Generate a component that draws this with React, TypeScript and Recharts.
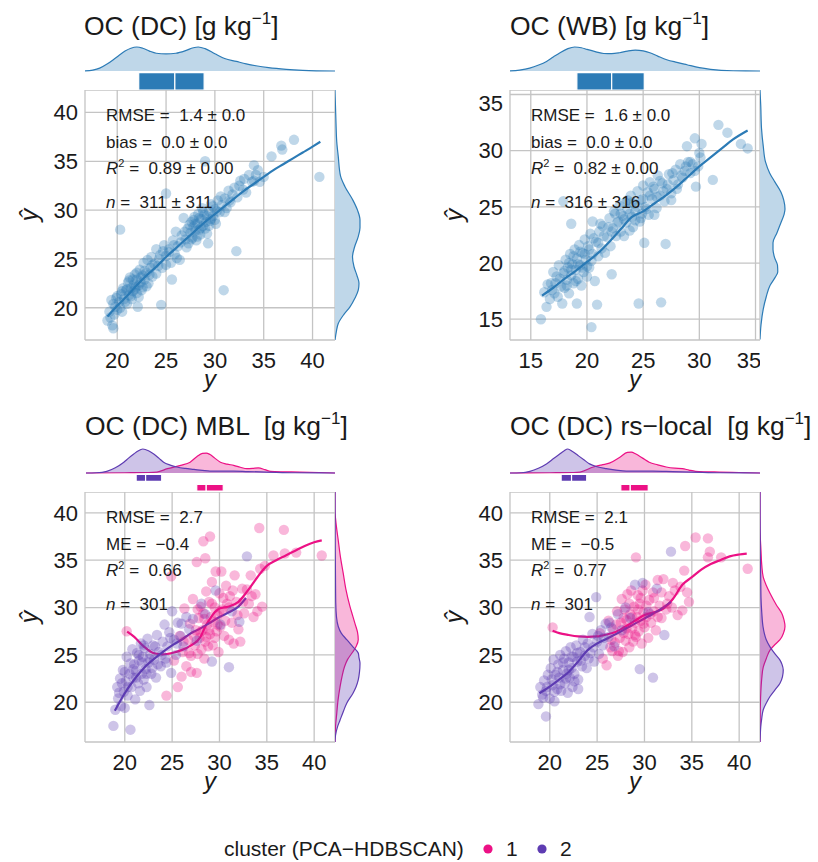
import React from "react";
import {
  Area,
  CartesianGrid,
  ComposedChart,
  Line,
  ReferenceArea,
  Scatter,
  XAxis,
  YAxis,
  ZAxis,
} from "recharts";

// Colours
const BLUE = "#2c7bb6";
const PINK = "#ec1185";
const PURPLE = "#5e3cb2";
const GRID = "#c4c4c4";
const INK = "#1a1a1a";
const FONT = "'Liberation Sans', Arial, Helvetica, sans-serif";

type Pt = [number, number];

// ---------- OC (DC): observed y vs predicted y-hat ----------
const dcPoints: Pt[] = [
  [19.0, 18.7], [19.2, 19.6], [19.4, 20.8], [19.5, 18.2], [19.6, 17.9], [19.7, 19.3], [19.8, 20.1], [19.9, 21.0],
  [20.0, 19.8], [20.3, 28.0], [20.2, 20.6], [20.4, 21.4], [20.5, 19.6], [20.6, 22.0], [20.7, 20.9], [20.9, 21.8],
  [21.0, 20.4], [21.1, 22.6], [21.2, 21.3], [21.3, 23.1], [21.4, 22.0], [21.5, 20.9], [21.6, 21.7], [21.7, 22.4],
  [21.8, 23.4], [21.9, 22.1], [22.0, 21.5], [22.0, 22.9], [22.1, 20.1], [22.2, 22.3], [22.3, 23.9], [22.4, 22.6],
  [22.5, 21.8], [22.6, 23.3], [22.7, 24.6], [22.8, 22.9], [23.0, 23.6], [23.1, 24.9], [23.2, 22.5], [23.4, 24.1],
  [23.5, 25.2], [23.6, 23.2], [23.8, 24.5], [24.0, 26.0], [24.2, 24.3], [24.4, 25.4], [24.5, 20.3], [24.6, 24.1],
  [24.8, 26.4], [25.0, 25.3], [25.0, 31.7], [25.6, 22.9], [25.3, 26.0], [25.5, 24.6], [25.7, 26.9], [25.9, 25.5],
  [26.0, 27.8], [26.2, 26.3], [26.4, 24.9], [26.6, 27.4], [26.8, 29.2], [27.0, 27.0], [27.2, 28.1], [27.3, 26.6],
  [27.5, 27.7], [27.6, 28.8], [27.7, 27.2], [27.8, 28.3], [27.9, 29.3], [28.0, 27.9], [28.1, 26.9], [28.2, 28.6],
  [28.3, 29.6], [28.4, 28.0], [28.5, 27.5], [28.6, 29.1], [28.7, 30.2], [28.8, 28.4], [28.9, 29.5], [29.0, 35.0],
  [29.1, 28.8], [29.2, 27.6], [29.3, 26.6], [29.4, 29.9], [29.5, 28.9], [29.6, 30.6], [29.8, 29.4], [30.0, 30.1],
  [30.1, 28.6], [30.3, 31.0], [30.5, 29.8], [30.7, 30.5], [30.9, 21.8], [31.0, 31.2], [31.2, 30.2], [31.4, 32.0],
  [31.6, 30.8], [31.8, 31.6], [32.0, 32.3], [32.2, 25.8], [32.3, 31.3], [32.6, 33.0], [32.9, 32.1], [33.2, 31.8],
  [33.5, 33.6], [33.8, 32.9], [34.0, 34.6], [34.2, 33.6], [34.4, 34.1], [34.6, 32.9], [35.0, 33.4], [35.8, 35.5],
  [36.8, 36.6], [36.9, 36.2], [38.1, 37.2], [40.7, 33.4],
  [19.3, 19.0], [19.6, 20.4], [20.0, 21.2], [20.3, 20.0], [20.5, 21.7], [20.8, 20.6], [21.0, 21.9], [21.2, 22.8],
  [21.4, 21.2], [21.6, 22.9], [21.8, 21.9], [22.0, 23.6], [22.2, 21.1], [22.4, 23.1], [22.6, 22.1], [22.8, 23.8],
  [23.0, 22.2], [23.3, 23.4], [23.6, 24.4], [24.0, 23.5], [24.3, 25.0], [24.7, 25.8], [25.0, 24.4], [25.3, 25.7],
  [25.8, 26.4], [26.1, 25.1], [26.5, 26.7], [26.9, 27.8], [27.1, 26.2], [27.4, 28.5], [27.6, 27.0], [27.8, 29.0],
  [28.0, 28.6], [28.2, 27.3], [28.4, 29.2], [28.6, 28.2], [28.8, 29.8], [29.0, 28.1], [29.2, 29.4], [29.4, 28.4],
  [29.6, 29.1], [29.8, 30.4], [30.0, 29.0], [30.2, 29.9], [30.6, 31.4], [31.0, 29.8], [31.5, 31.0], [32.5, 32.5],
  [33.0, 33.2], [34.0, 33.0],
];
const dcSmooth: Pt[] = [
  [19.0, 19.1], [20, 20.2], [21, 21.2], [22, 22.3], [23, 23.3], [24, 24.2], [25, 25.2], [26, 26.1], [27, 27.0],
  [28, 27.9], [29, 28.8], [30, 29.6], [31, 30.4], [32, 31.2], [33, 32.0], [34, 32.7], [35, 33.4], [36, 34.1],
  [37, 34.7], [38, 35.3], [39, 35.9], [40, 36.5], [40.8, 37.0],
];
const dcTopDensity: Pt[] = [
  [16.6, 0], [17.5, 0.04], [18.2, 0.12], [19.0, 0.3], [19.6, 0.47], [20.2, 0.66], [20.8, 0.83], [21.4, 0.95],
  [22.0, 1.0], [22.6, 0.95], [23.3, 0.83], [24.0, 0.74], [25.0, 0.71], [26.0, 0.74], [27.0, 0.85], [27.8, 0.97],
  [28.3, 1.0], [29.0, 0.93], [30.0, 0.72], [31.0, 0.52], [32.2, 0.4], [33.2, 0.3], [34.2, 0.22], [35.5, 0.14],
  [37.3, 0.07], [39.0, 0.03], [42.3, 0],
];
const dcRightDensity: Pt[] = [
  [16.7, 0], [17.5, 0.05], [18.4, 0.13], [19.3, 0.35], [20.1, 0.6], [21.0, 0.8], [21.8, 0.93], [22.5, 0.96],
  [23.3, 0.88], [24.2, 0.76], [25.2, 0.7], [26.2, 0.78], [27.2, 0.92], [28.2, 1.0], [29.0, 1.0], [30.0, 0.9],
  [31.0, 0.72], [32.4, 0.4], [33.5, 0.22], [35.5, 0.13], [37.0, 0.07], [38.9, 0.04], [42.3, 0],
];
const dcBox = [22.2, 25.9, 28.9];
const dcStats = ["1.4 ± 0.0", "0.0 ± 0.0", "0.89 ± 0.00", "311 ± 311"];

// ---------- OC (WB) ----------
const wbPoints: Pt[] = [
  [15.9, 15.0], [16.2, 17.4], [16.4, 16.1], [16.5, 18.1], [16.7, 16.8], [16.9, 17.6], [17.0, 19.2], [17.2, 18.2],
  [17.4, 17.0], [17.5, 19.8], [17.6, 18.6], [17.8, 16.4], [17.9, 19.1], [17.9, 25.5], [18.0, 17.8], [18.1, 20.3],
  [18.2, 18.5], [18.3, 19.6], [18.4, 17.3], [18.5, 20.8], [18.6, 18.9], [18.6, 23.5], [18.7, 19.9], [18.8, 18.2],
  [18.9, 21.2], [19.0, 19.4], [19.1, 16.4], [19.1, 20.4], [19.2, 18.6], [19.3, 21.6], [19.4, 19.8], [19.5, 18.0],
  [19.6, 20.9], [19.7, 19.2], [19.8, 22.1], [19.9, 20.3], [20.0, 18.8], [20.1, 21.5], [20.2, 19.6], [20.3, 22.6],
  [20.4, 14.3], [20.5, 20.8], [20.5, 23.7], [20.7, 18.4], [20.8, 21.9], [20.9, 16.3], [21.0, 20.6], [21.1, 22.8],
  [21.3, 21.3], [21.4, 23.3], [21.6, 20.9], [21.8, 22.3], [22.0, 24.0], [22.1, 21.5], [22.2, 19.0], [22.3, 23.1],
  [22.5, 24.4], [22.6, 22.4], [22.8, 23.7], [22.9, 25.1], [23.0, 22.8], [23.2, 24.2], [23.3, 22.4], [23.4, 25.4],
  [23.5, 23.6], [23.6, 24.8], [23.8, 22.9], [23.9, 26.0], [24.0, 24.1], [24.1, 23.2], [24.2, 25.3], [24.3, 24.6],
  [24.5, 26.4], [24.6, 16.4], [24.7, 23.7], [24.8, 25.6], [24.9, 24.4], [25.0, 26.9], [25.1, 21.8], [25.2, 25.0],
  [25.4, 26.3], [25.5, 24.3], [25.6, 27.2], [25.8, 25.7], [26.0, 26.6], [26.2, 24.9], [26.3, 27.8], [26.5, 26.0],
  [26.6, 16.5], [26.7, 27.1], [26.9, 25.5], [27.0, 21.7], [27.1, 26.6], [27.3, 27.9], [27.5, 26.2], [27.7, 27.4],
  [27.9, 28.3], [28.1, 27.0], [28.3, 28.8], [28.5, 27.6], [28.7, 28.2], [28.9, 30.4], [29.0, 29.0], [29.2, 28.0],
  [29.4, 28.8], [29.6, 31.1], [29.7, 26.8], [29.9, 28.6], [30.1, 29.4], [30.2, 30.6], [31.2, 27.4], [31.7, 32.3],
  [32.5, 31.6], [33.7, 30.6], [34.3, 30.2],
  [16.8, 18.2], [17.1, 17.3], [17.3, 18.8], [17.7, 17.9], [18.0, 19.3], [18.2, 18.0], [18.4, 20.0], [18.6, 19.4],
  [18.8, 20.6], [19.0, 18.4], [19.2, 19.9], [19.4, 21.0], [19.6, 19.6], [19.8, 20.8], [20.0, 19.7], [20.2, 21.2],
  [20.4, 20.2], [20.6, 22.2], [21.0, 21.8], [21.2, 23.5], [21.5, 22.4], [21.9, 23.2], [22.2, 22.8], [22.4, 24.6],
  [22.7, 23.6], [23.0, 24.4], [23.3, 23.9], [23.6, 25.6], [23.8, 24.4], [24.0, 25.4], [24.3, 23.8], [24.5, 25.0],
  [24.8, 24.0], [25.0, 25.7], [25.3, 24.8], [25.6, 26.0], [25.9, 26.8], [26.2, 25.9], [26.5, 27.3], [26.8, 26.4],
  [27.2, 27.0], [27.6, 28.0], [28.0, 26.6], [28.4, 27.8], [28.8, 28.6], [29.2, 29.0], [29.6, 28.2], [30.0, 29.8],
  [27.5, 25.6], [26.0, 24.3],
];
const wbSmooth: Pt[] = [
  [16.0, 17.1], [17, 17.8], [18, 18.6], [19, 19.3], [20, 20.1], [21, 20.9], [22, 21.9], [23, 23.0], [24, 24.1],
  [25, 24.6], [26, 25.3], [27, 26.0], [28, 26.8], [29, 27.7], [30, 28.6], [31, 29.4], [32, 30.2], [33, 31.0],
  [34.3, 31.8],
];
const wbTopDensity: Pt[] = [
  [13.1, 0], [14.0, 0.04], [14.9, 0.12], [15.7, 0.25], [16.4, 0.4], [17.0, 0.58], [17.6, 0.76], [18.3, 0.93],
  [18.9, 1.0], [19.5, 0.97], [20.0, 0.9], [20.8, 0.8], [21.5, 0.73], [22.2, 0.72], [22.9, 0.76], [23.6, 0.83],
  [24.3, 0.87], [25.0, 0.84], [25.6, 0.76], [26.3, 0.62], [27.1, 0.47], [28.0, 0.36], [28.9, 0.26], [30.0, 0.14],
  [31.0, 0.07], [33.0, 0.01], [35.4, 0],
];
const wbRightDensity: Pt[] = [
  [13.2, 0], [14.5, 0.04], [15.9, 0.13], [17.0, 0.25], [18.0, 0.4], [18.7, 0.6], [19.2, 0.71], [19.8, 0.7],
  [20.5, 0.58], [21.2, 0.52], [21.8, 0.52], [22.7, 0.68], [23.6, 0.84], [24.3, 0.96], [24.8, 1.0], [25.6, 0.95],
  [26.3, 0.84], [27.2, 0.6], [28.0, 0.39], [29.0, 0.22], [30.4, 0.13], [32.0, 0.06], [34.0, 0.03], [35.4, 0],
];
const wbBox = [19.1, 22.2, 25.1];
const wbStats = ["1.6 ± 0.0", "0.0 ± 0.0", "0.82 ± 0.00", "316 ± 316"];

// ---------- OC (DC) MBL, cluster 1 (pink) and 2 (purple) ----------
const mblPoints1: Pt[] = [
  [20.2, 27.5], [24.4, 20.7], [24.9, 33.3], [25.2, 24.4], [25.6, 21.6], [25.8, 27.0], [26.0, 22.7], [26.1, 25.3],
  [26.3, 29.9], [26.5, 23.8], [26.7, 26.6], [26.9, 28.3], [27.0, 24.9], [27.2, 30.9], [27.4, 26.0], [27.5, 27.6],
  [27.6, 34.8], [27.6, 23.1], [27.7, 25.1], [27.8, 28.9], [27.9, 26.8], [28.0, 30.1], [28.1, 25.6], [28.2, 27.6],
  [28.3, 37.0], [28.3, 29.4], [28.4, 24.6], [28.5, 35.2], [28.5, 26.4], [28.6, 31.7], [28.7, 28.2], [28.8, 25.9],
  [28.9, 30.6], [29.0, 37.5], [29.0, 27.2], [29.1, 29.0], [29.2, 32.7], [29.3, 26.0], [29.4, 28.5], [29.5, 30.0],
  [29.6, 33.8], [29.7, 27.5], [29.8, 29.2], [29.9, 25.3], [30.0, 31.5], [30.1, 28.0], [30.2, 33.8], [30.3, 29.8],
  [30.5, 27.0], [30.7, 32.3], [30.8, 30.4], [31.0, 26.6], [31.1, 31.2], [31.3, 28.4], [31.5, 26.2], [31.6, 33.4],
  [31.8, 30.6], [32.0, 27.7], [32.2, 26.4], [32.4, 32.0], [32.6, 29.4], [32.9, 31.9], [33.1, 30.4], [33.3, 33.4],
  [33.6, 29.0], [33.8, 31.4], [34.0, 29.6], [34.2, 38.4], [34.3, 34.1], [34.5, 30.1], [34.8, 34.4], [35.7, 35.5],
  [36.8, 38.2], [36.9, 35.7], [38.1, 35.8], [40.8, 35.5],
  [26.8, 25.2], [27.3, 27.0], [27.7, 29.8], [28.0, 27.4], [28.4, 28.8], [28.6, 26.9], [28.9, 27.6], [29.2, 30.4],
  [29.5, 26.8], [29.8, 28.2], [30.0, 29.6], [30.4, 31.0], [30.6, 28.6], [31.0, 30.0], [31.4, 31.8], [31.9, 29.2],
  [32.5, 30.6], [33.4, 31.2], [27.0, 23.2], [26.2, 26.4],
];
const mblPoints2: Pt[] = [
  [18.8, 17.5], [19.0, 19.2], [19.2, 21.6], [19.3, 20.4], [19.5, 22.5], [19.6, 19.6], [19.8, 23.4], [19.9, 21.1],
  [20.0, 19.4], [20.1, 22.2], [20.2, 24.8], [20.3, 20.7], [20.5, 23.0], [20.6, 17.1], [20.7, 21.6], [20.8, 25.6],
  [20.9, 22.6], [21.0, 24.0], [21.1, 20.3], [21.2, 23.3], [21.3, 25.2], [21.4, 22.0], [21.5, 24.4], [21.6, 21.2],
  [21.7, 26.2], [21.8, 23.0], [21.9, 24.8], [22.0, 22.4], [22.1, 25.7], [22.2, 23.5], [22.3, 21.6], [22.4, 26.7],
  [22.5, 24.2], [22.6, 19.7], [22.7, 25.1], [22.8, 23.0], [23.0, 26.0], [23.1, 24.5], [23.3, 22.6], [23.4, 27.1],
  [23.6, 25.3], [23.8, 23.8], [24.0, 26.4], [24.2, 28.2], [24.3, 24.6], [24.5, 25.9], [24.7, 27.4], [24.9, 23.1],
  [25.0, 29.6], [25.2, 26.6], [25.4, 25.0], [25.6, 28.4], [25.9, 27.0], [26.2, 25.9], [26.5, 29.0], [26.8, 27.7],
  [27.2, 28.8], [27.6, 26.5], [28.1, 30.4], [28.5, 29.3], [29.2, 24.3], [29.6, 31.8], [30.1, 28.2], [31.0, 23.7],
  [31.3, 29.6], [32.1, 28.5], [32.9, 35.4],
  [19.4, 21.0], [19.7, 22.0], [20.0, 23.2], [20.3, 21.6], [20.6, 24.1], [20.9, 23.5], [21.2, 22.6], [21.5, 25.0],
  [21.8, 24.2], [22.0, 26.0], [22.3, 23.0], [22.6, 24.6], [22.9, 23.6], [23.2, 25.9], [23.5, 24.0], [23.9, 25.0],
  [24.4, 24.2], [24.8, 26.8], [25.5, 26.2], [26.0, 28.3],
];
const mblSmooth1: Pt[] = [
  [20.25, 27.45], [21, 26.9], [22, 25.9], [23, 25.2], [24, 25.05], [25, 25.2], [26, 25.5], [27, 26.0], [28, 26.9],
  [28.5, 28.0], [29, 28.8], [29.5, 29.5], [30, 29.9], [31, 30.1], [32, 30.6], [33, 31.8], [34, 33.2], [35, 34.4],
  [36, 35.0], [37, 35.5], [38, 36.0], [39, 36.5], [40, 36.9], [40.8, 37.1],
];
const mblSmooth2: Pt[] = [
  [18.95, 19.1], [20, 20.95], [21, 22.4], [22, 23.6], [23, 24.5], [24, 25.3], [25, 26.0], [26, 26.6], [27, 27.3],
  [28, 27.8], [29, 28.4], [30, 29.0], [31, 29.5], [32, 30.1], [32.8, 31.0],
];
const mblTop1: Pt[] = [
  [15.9, 0], [20.0, 0.01], [22.5, 0.02], [23.4, 0.04], [24.5, 0.18], [25.9, 0.32], [26.9, 0.45], [27.6, 0.68],
  [28.2, 0.82], [28.6, 0.83], [29.0, 0.77], [29.5, 0.62], [30.1, 0.45], [30.8, 0.37], [31.5, 0.32], [32.2, 0.24],
  [32.9, 0.18], [33.5, 0.19], [34.1, 0.21], [34.8, 0.14], [35.4, 0.07], [36.5, 0.05], [38.5, 0.04], [40.5, 0.02],
  [42.2, 0],
];
const mblTop2: Pt[] = [
  [15.9, 0], [17.0, 0.01], [18.1, 0.07], [19.0, 0.22], [19.9, 0.45], [20.4, 0.62], [20.95, 0.79], [21.4, 0.92],
  [21.9, 1.0], [22.5, 0.93], [23.06, 0.79], [23.6, 0.62], [24.1, 0.45], [24.8, 0.33], [25.5, 0.25], [26.4, 0.19],
  [27.3, 0.15], [28.2, 0.11], [29.0, 0.08], [30.2, 0.08], [31.5, 0.08], [33.0, 0.06], [35.0, 0.04], [38.0, 0.01],
  [42.2, 0],
];
const mblRight1: Pt[] = [
  [15.8, 0], [16.0, 0], [17.4, 0.02], [18.8, 0.07], [20.2, 0.12], [21.6, 0.2], [22.7, 0.28], [23.75, 0.38],
  [24.5, 0.5], [25.2, 0.68], [25.9, 0.85], [26.6, 0.93], [27.4, 0.9], [28.3, 0.8], [29.2, 0.7], [30.1, 0.6],
  [32.0, 0.43], [33.6, 0.33], [35.3, 0.22], [37.1, 0.13], [38.7, 0.05], [40.3, 0], [42.2, 0],
];
const mblRight2: Pt[] = [
  [15.8, 0], [16.5, 0.02], [17.4, 0.1], [18.1, 0.2], [19.0, 0.33], [19.9, 0.47], [20.95, 0.72], [21.6, 0.84],
  [22.35, 0.93], [23.2, 0.98], [24.1, 1.0], [24.7, 0.96], [25.2, 0.93], [25.9, 0.7], [26.6, 0.47], [27.3, 0.25],
  [28.0, 0.13], [29.0, 0.06], [30.5, 0.03], [33.0, 0.02], [36.0, 0.01], [42.2, 0],
];
const mblBox1 = [27.6, 28.6, 30.4];
const mblBox2 = [21.2, 22.2, 23.9];
const mblStats = ["2.7", "\u22120.4", "0.66", "301"];

// ---------- OC (DC) rs-local ----------
const rsPoints1: Pt[] = [
  [20.3, 27.9], [25.3, 27.3], [25.6, 24.6], [26.0, 23.9], [26.2, 28.6], [26.4, 25.8], [26.7, 27.7], [26.9, 26.3],
  [27.1, 29.6], [27.3, 25.4], [27.5, 28.4], [27.6, 30.9], [27.7, 25.3], [27.8, 27.3], [27.9, 29.8], [28.0, 26.5],
  [28.1, 28.7], [28.2, 31.4], [28.3, 27.2], [28.4, 25.8], [28.5, 29.3], [28.6, 31.8], [28.7, 27.8], [28.8, 26.4],
  [28.9, 30.1], [29.0, 28.4], [29.1, 35.3], [29.1, 26.9], [29.2, 29.0], [29.3, 31.3], [29.4, 27.5], [29.5, 30.4],
  [29.6, 28.6], [29.7, 26.2], [29.8, 31.8], [29.9, 29.5], [30.0, 27.9], [30.1, 32.4], [30.2, 29.0], [30.4, 26.8],
  [30.5, 30.8], [30.7, 28.4], [30.9, 31.6], [31.0, 29.6], [31.2, 27.6], [31.4, 32.9], [31.6, 30.2], [31.8, 28.9],
  [32.0, 33.0], [32.3, 29.8], [32.6, 31.2], [32.9, 30.0], [33.2, 31.8], [33.5, 29.2], [33.8, 32.2], [34.0, 29.7],
  [34.2, 33.9], [34.3, 36.5], [34.5, 31.6], [34.7, 30.6], [35.4, 37.4], [36.7, 37.3], [36.7, 35.3], [36.9, 35.9],
  [38.1, 35.3], [40.9, 34.1],
  [26.5, 26.6], [27.0, 28.2], [27.4, 26.8], [27.8, 28.9], [28.1, 27.8], [28.4, 30.4], [28.7, 29.0], [29.0, 27.1],
  [29.3, 29.8], [29.6, 31.0], [29.9, 28.3], [30.2, 30.2], [30.6, 29.3], [31.0, 31.0], [31.4, 29.0], [31.8, 31.6],
  [32.4, 30.4], [33.0, 32.6], [27.2, 24.9], [26.6, 25.4],
];
const rsPoints2: Pt[] = [
  [18.8, 19.8], [19.0, 21.6], [19.2, 20.8], [19.4, 22.3], [19.6, 18.5], [19.6, 21.2], [19.8, 22.9], [20.0, 20.4],
  [20.1, 23.6], [20.3, 21.8], [20.4, 24.5], [20.5, 20.1], [20.6, 22.9], [20.8, 21.4], [20.9, 24.0], [21.0, 22.6],
  [21.1, 25.0], [21.2, 21.2], [21.4, 23.4], [21.5, 24.6], [21.6, 22.0], [21.7, 25.4], [21.8, 23.0], [21.9, 21.0],
  [22.0, 24.2], [22.1, 22.6], [22.2, 25.8], [22.3, 23.6], [22.4, 21.6], [22.5, 24.8], [22.6, 23.0], [22.8, 26.0],
  [22.9, 24.3], [23.0, 22.4], [23.2, 25.3], [23.4, 23.8], [23.5, 26.6], [23.7, 24.9], [23.9, 23.6], [24.0, 26.2],
  [24.2, 29.0], [24.3, 25.2], [24.5, 27.2], [24.7, 24.3], [24.9, 31.1], [25.0, 26.4], [25.2, 25.1], [25.4, 27.6],
  [25.6, 26.0], [25.9, 28.3], [26.2, 26.9], [26.5, 27.9], [26.8, 25.9], [27.2, 29.3], [27.6, 27.6], [28.0, 30.0],
  [28.5, 28.9], [29.0, 32.4], [29.5, 23.5], [29.8, 32.6], [30.4, 29.5], [30.9, 22.6], [31.3, 32.0], [32.1, 27.1],
  [32.8, 35.9],
  [19.3, 20.5], [19.7, 21.6], [20.2, 22.4], [20.5, 21.1], [20.8, 23.2], [21.1, 21.9], [21.4, 24.2], [21.7, 22.5],
  [22.0, 23.4], [22.3, 24.8], [22.6, 22.2], [22.9, 25.2], [23.3, 24.4], [23.7, 25.8], [24.1, 24.6], [24.6, 25.8],
  [25.1, 27.0], [25.7, 26.8], [26.3, 28.4], [23.0, 21.4],
];
const rsSmooth1: Pt[] = [
  [20.3, 27.55], [21, 27.3], [22, 27.1], [23, 26.95], [24, 26.9], [25, 26.95], [26, 27.15], [27, 27.45], [28, 28.0],
  [29, 28.6], [30, 29.2], [31, 29.5], [32, 29.9], [33, 30.9], [34, 32.4], [35, 33.2], [36, 34.0], [37, 34.6],
  [38, 35.0], [39, 35.4], [40, 35.6], [40.8, 35.7],
];
const rsSmooth2: Pt[] = [
  [18.9, 20.95], [20, 21.65], [21, 22.4], [22, 23.2], [23, 24.3], [24, 25.5], [25, 26.2], [26, 26.7], [27, 27.2],
  [28, 27.75], [29, 28.3], [30, 28.85], [31, 29.4], [32, 30.0], [32.8, 30.6],
];
const rsTop1: Pt[] = [
  [15.8, 0], [20.0, 0.01], [22.5, 0.02], [23.2, 0.04], [24.6, 0.25], [25.5, 0.34], [26.3, 0.41], [27.4, 0.66],
  [28.2, 0.86], [28.6, 0.87], [29.1, 0.79], [29.8, 0.62], [30.5, 0.45], [31.4, 0.34], [32.3, 0.25], [33.2, 0.2],
  [34.0, 0.18], [34.7, 0.12], [35.4, 0.07], [36.5, 0.05], [37.9, 0.04], [40.0, 0.02], [42.2, 0],
];
const rsTop2: Pt[] = [
  [15.8, 0], [17.0, 0.01], [17.9, 0.07], [18.8, 0.2], [19.65, 0.38], [20.4, 0.6], [21.05, 0.79], [21.5, 0.92],
  [21.9, 1.0], [22.4, 0.9], [22.98, 0.73], [23.6, 0.55], [24.2, 0.38], [25.0, 0.26], [25.97, 0.18], [27.0, 0.12],
  [28.07, 0.08], [29.5, 0.08], [30.9, 0.08], [33.0, 0.06], [35.1, 0.04], [38.0, 0.01], [42.2, 0],
];
const rsRight1: Pt[] = [
  [15.8, 0], [19.0, 0.01], [20.9, 0.03], [22.5, 0.07], [23.7, 0.13], [24.6, 0.25], [25.5, 0.4], [26.1, 0.6],
  [26.6, 0.8], [27.3, 0.94], [28.0, 1.0], [28.7, 0.96], [29.4, 0.87], [30.3, 0.65], [31.5, 0.4], [32.4, 0.24],
  [33.2, 0.13], [34.5, 0.07], [36.0, 0.04], [38.5, 0], [42.2, 0],
];
const rsRight2: Pt[] = [
  [15.8, 0], [16.5, 0.01], [17.4, 0.03], [18.3, 0.07], [19.2, 0.13], [20.0, 0.27], [20.6, 0.4], [21.3, 0.6],
  [22.0, 0.8], [22.7, 0.9], [23.4, 0.93], [24.0, 0.88], [24.45, 0.8], [25.1, 0.6], [25.85, 0.4], [26.6, 0.25],
  [27.3, 0.17], [28.0, 0.12], [29.5, 0.07], [31.0, 0.04], [33.0, 0.03], [36.0, 0.01], [42.2, 0],
];
const rsBox1 = [27.5, 28.5, 30.4];
const rsBox2 = [21.2, 22.3, 23.9];
const rsStats = ["2.1", "\u22120.5", "0.77", "301"];

const dcTicks = [20, 25, 30, 35, 40];
const wbTicks = [15, 20, 25, 30, 35];
const legendItems = [
  { label: "1", color: PINK },
  { label: "2", color: PURPLE },
];

// Layout (pixels)
const SIZE = 250; // square scatter panel
const AXIS_W = 85;
const TOP_H = 60; // top marginal strip
const TOP_BASE = 19; // density baseline, px above scatter panel
const TOP_UNIT = 24; // px per density unit
const RIGHT_W = 28;
const RIGHT_UNIT = 25;

const xy = (pts: Pt[]) => pts.map(([x, y]) => ({ x, y }));
const vd = (pts: Pt[]) => pts.map(([v, d]) => ({ v, d }));

type Layer = {
  color: string;
  points: Pt[];
  smooth: Pt[];
  top: Pt[];
  right: Pt[];
  box: number[];
  boxRow: [number, number]; // px below density baseline
};

type PanelProps = {
  x0: number;
  y0: number;
  domain: [number, number];
  ticks: number[];
  layers: Layer[];
};

const zero = { top: 0, right: 0, bottom: 0, left: 0 };

function Panel({ x0, y0, domain, ticks, layers }: PanelProps) {
  const tick = { fontSize: 22, fill: INK, fontFamily: FONT };
  const topDomain: [number, number] = [-TOP_BASE / TOP_UNIT, (TOP_H - TOP_BASE) / TOP_UNIT];
  return (
    <>
      <div style={{ position: "absolute", left: x0 - AXIS_W, top: y0 }}>
        <ComposedChart width={AXIS_W + SIZE} height={SIZE + 60} margin={zero}>
          <CartesianGrid stroke={GRID} strokeWidth={1.3} />
          <XAxis
            type="number"
            dataKey="x"
            domain={domain}
            ticks={ticks}
            allowDataOverflow
            axisLine={false}
            tickLine={false}
            tickMargin={6}
            height={60}
            tick={tick}
          />
          <YAxis
            type="number"
            dataKey="y"
            domain={domain}
            ticks={ticks}
            allowDataOverflow
            axisLine={false}
            tickLine={false}
            tickMargin={1}
            width={AXIS_W}
            tick={tick}
          />
          <ZAxis range={[85, 85]} />
          {layers.map((l, i) => (
            <Scatter
              key={`s${i}`}
              data={xy(l.points)}
              fill={l.color}
              fillOpacity={0.3}
              isAnimationActive={false}
            />
          ))}
          {layers.map((l, i) => (
            <Line
              key={`l${i}`}
              data={xy(l.smooth)}
              dataKey="y"
              type="monotone"
              stroke={l.color}
              strokeWidth={2.2}
              dot={false}
              isAnimationActive={false}
            />
          ))}
        </ComposedChart>
      </div>

      {/* top marginal: density + box */}
      <div style={{ position: "absolute", left: x0, top: y0 - TOP_H }}>
        <ComposedChart width={SIZE} height={TOP_H} margin={zero}>
          <XAxis type="number" dataKey="v" domain={domain} allowDataOverflow hide />
          <YAxis type="number" domain={topDomain} allowDataOverflow hide />
          {layers.map((l, i) => (
            <Area
              key={`a${i}`}
              data={vd(l.top)}
              dataKey="d"
              type="monotone"
              baseValue={0}
              stroke={l.color}
              strokeWidth={1.2}
              fill={l.color}
              fillOpacity={0.3}
              isAnimationActive={false}
            />
          ))}
          {layers.map((l, i) =>
            [0, 1].map((k) => (
              <ReferenceArea
                key={`b${i}${k}`}
                x1={l.box[k]}
                x2={l.box[k + 1]}
                y1={-l.boxRow[0] / TOP_UNIT}
                y2={-l.boxRow[1] / TOP_UNIT}
                fill={l.color}
                fillOpacity={1}
                stroke="#ffffff"
                strokeWidth={1.2}
              />
            ))
          )}
        </ComposedChart>
      </div>

      {/* right marginal: density */}
      <div style={{ position: "absolute", left: x0 + SIZE, top: y0 }}>
        <ComposedChart layout="vertical" width={RIGHT_W} height={SIZE} margin={zero}>
          <XAxis type="number" domain={[0, RIGHT_W / RIGHT_UNIT]} allowDataOverflow hide />
          <YAxis type="number" dataKey="v" domain={domain} allowDataOverflow hide reversed />
          {layers.map((l, i) => (
            <Area
              key={`r${i}`}
              data={vd(l.right)}
              dataKey="d"
              type="monotone"
              baseValue={0}
              stroke={l.color}
              strokeWidth={1.2}
              fill={l.color}
              fillOpacity={0.3}
              isAnimationActive={false}
            />
          ))}
        </ComposedChart>
      </div>
    </>
  );
}

function Title({ x, y, name }: { x: number; y: number; name: string }) {
  return (
    <text x={x} y={y} fontSize={26.5} fill={INK} style={{ whiteSpace: "pre" }}>
      {name + "[g kg"}
      <tspan dy={-11} fontSize={17}>
        {"\u22121"}
      </tspan>
      <tspan dy={11}>]</tspan>
    </text>
  );
}

function Stats({ x, y, labels, values }: { x: number; y: number; labels: string[]; values: string[] }) {
  const rows = [30.5, 57.5, 84, 117.5];
  return (
    <>
      {labels.map((lab, i) => (
        <text key={lab} x={x} y={y + rows[i]} fontSize={17} fill={INK} style={{ whiteSpace: "pre" }}>
          {lab === "R2" ? (
            <>
              <tspan fontStyle="italic">R</tspan>
              <tspan dy={-7} fontSize={11}>
                2
              </tspan>
              <tspan dy={7}>{" =  "}</tspan>
            </>
          ) : lab === "n" ? (
            <>
              <tspan fontStyle="italic">n</tspan>
              <tspan>{" =  "}</tspan>
            </>
          ) : (
            <tspan>{lab + " =  "}</tspan>
          )}
          <tspan>{values[i]}</tspan>
        </text>
      ))}
    </>
  );
}

function AxisTitles({ x0, y0 }: { x0: number; y0: number }) {
  return (
    <>
      <text x={x0 + SIZE / 2} y={y0 + SIZE + 47} fontSize={24} fontStyle="italic" textAnchor="middle" fill={INK}>
        y
      </text>
      <text
        transform={`translate(${x0 - 47}, ${y0 + SIZE / 2}) rotate(-90)`}
        fontSize={25}
        fontStyle="italic"
        textAnchor="middle"
        fill={INK}
      >
        {"\u0177"}
      </text>
    </>
  );
}

export default function App() {
  const statLabels = ["RMSE", "bias", "R2", "n"];
  const clusterLabels = ["RMSE", "ME", "R2", "n"];
  const single = (color: string, points: Pt[], smooth: Pt[], top: Pt[], right: Pt[], box: number[]): Layer[] => [
    { color, points, smooth, top, right, box, boxRow: [1.7, 19] },
  ];
  const clusters = (
    p1: Pt[], p2: Pt[], s1: Pt[], s2: Pt[], t1: Pt[], t2: Pt[], r1: Pt[], r2: Pt[], b1: number[], b2: number[]
  ): Layer[] => [
    { color: PINK, points: p1, smooth: s1, top: t1, right: r1, box: b1, boxRow: [11.3, 18] },
    { color: PURPLE, points: p2, smooth: s2, top: t2, right: r2, box: b2, boxRow: [1.3, 8.3] },
  ];

  return (
    <div
      style={{
        position: "absolute",
        left: 0,
        top: 0,
        width: 818,
        height: 862,
        background: "#ffffff",
        fontFamily: FONT,
        overflow: "hidden",
      }}
    >
      <Panel
        x0={85}
        y0={90}
        domain={[16.7, 42.3]}
        ticks={dcTicks}
        layers={single(BLUE, dcPoints, dcSmooth, dcTopDensity, dcRightDensity, dcBox)}
      />
      <Panel
        x0={510}
        y0={90}
        domain={[13.15, 35.4]}
        ticks={wbTicks}
        layers={single(BLUE, wbPoints, wbSmooth, wbTopDensity, wbRightDensity, wbBox)}
      />
      <Panel
        x0={85}
        y0={492}
        domain={[15.8, 42.2]}
        ticks={dcTicks}
        layers={clusters(mblPoints1, mblPoints2, mblSmooth1, mblSmooth2, mblTop1, mblTop2, mblRight1, mblRight2, mblBox1, mblBox2)}
      />
      <Panel
        x0={510}
        y0={492}
        domain={[15.8, 42.2]}
        ticks={dcTicks}
        layers={clusters(rsPoints1, rsPoints2, rsSmooth1, rsSmooth2, rsTop1, rsTop2, rsRight1, rsRight2, rsBox1, rsBox2)}
      />

      <svg
        width={818}
        height={862}
        style={{ position: "absolute", left: 0, top: 0, pointerEvents: "none", fontFamily: FONT }}
      >
        <Title x={84} y={35} name="OC (DC) " />
        <Title x={510} y={35} name="OC (WB) " />
        <Title x={85} y={435} name="OC (DC) MBL  " />
        <Title x={510} y={435} name={"OC (DC) rs\u2212local  "} />

        <Stats x={106} y={90} labels={statLabels} values={dcStats} />
        <Stats x={531} y={90} labels={statLabels} values={wbStats} />
        <Stats x={106} y={492} labels={clusterLabels} values={mblStats} />
        <Stats x={531} y={492} labels={clusterLabels} values={rsStats} />

        <AxisTitles x0={85} y0={90} />
        <AxisTitles x0={510} y0={90} />
        <AxisTitles x0={85} y0={492} />
        <AxisTitles x0={510} y0={492} />

        <text x={224} y={856} fontSize={21} fill={INK}>
          {"cluster (PCA\u2212HDBSCAN)"}
        </text>
        {legendItems.map((it, i) => (
          <g key={it.label}>
            <circle cx={488 + i * 54} cy={849} r={4.6} fill={it.color} />
            <text x={506 + i * 54} y={856} fontSize={21} fill={INK}>
              {it.label}
            </text>
          </g>
        ))}
      </svg>
    </div>
  );
}
